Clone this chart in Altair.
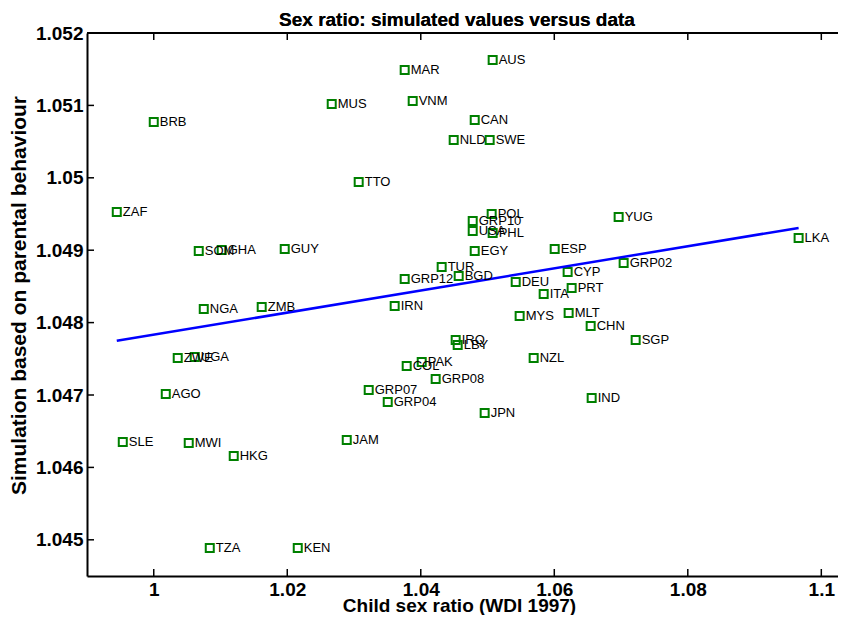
import altair as alt
import pandas as pd

# ---- data ----
codes = ["AUS", "MAR", "MUS", "VNM", "BRB", "CAN", "NLD", "SWE", "TTO", "ZAF",
         "POL", "GRP10", "USA", "PHL", "YUG", "LKA", "SOM", "GHA", "GUY", "EGY",
         "ESP", "GRP02", "CYP", "TUR", "GRP12", "BGD", "DEU", "PRT", "ITA", "NGA",
         "ZMB", "IRN", "MYS", "MLT", "CHN", "SGP", "IRQ", "LBY", "ZWE", "UGA",
         "NZL", "PAK", "COL", "GRP08", "GRP07", "AGO", "GRP04", "IND", "JPN", "SLE",
         "MWI", "JAM", "HKG", "TZA", "KEN"]
child_ratio = [1.05077, 1.03759, 1.02666, 1.03879, 1.00000, 1.04808, 1.04493, 1.05032, 1.03070, 0.99446,
               1.05062, 1.04778, 1.04778, 1.05077, 1.06964, 1.09660, 1.00674, 1.01018, 1.01962, 1.04808,
               1.06006, 1.07039, 1.06200, 1.04313, 1.03759, 1.04568, 1.05422, 1.06260, 1.05841, 1.00749,
               1.01617, 1.03609, 1.05481, 1.06215, 1.06545, 1.07219, 1.04523, 1.04553, 1.00359, 1.00614,
               1.05691, 1.04014, 1.03789, 1.04223, 1.03220, 1.00180, 1.03505, 1.06560, 1.04957, 0.99536,
               1.00524, 1.02891, 1.01198, 1.00839, 1.02157]
simulated = [1.051627, 1.051489, 1.051020, 1.051061, 1.050771, 1.050799, 1.050522, 1.050522, 1.049942, 1.049528,
             1.049500, 1.049404, 1.049266, 1.049238, 1.049459, 1.049169, 1.048989, 1.049003, 1.049017, 1.048989,
             1.049017, 1.048824, 1.048699, 1.048768, 1.048603, 1.048644, 1.048561, 1.048478, 1.048396, 1.048188,
             1.048216, 1.048230, 1.048092, 1.048133, 1.047954, 1.047760, 1.047760, 1.047691, 1.047512, 1.047526,
             1.047512, 1.047457, 1.047401, 1.047222, 1.047070, 1.047015, 1.046904, 1.046959, 1.046752, 1.046352,
             1.046338, 1.046379, 1.046158, 1.044888, 1.044888]
fit_x = [0.99446, 1.0966]
fit_y = [1.047748, 1.049308]
x_ticks = [1.0, 1.02, 1.04, 1.06, 1.08, 1.1]
y_ticks = [1.045, 1.046, 1.047, 1.048, 1.049, 1.05, 1.051, 1.052]
x_domain = [0.99, 1.1025]
y_domain = [1.0445, 1.052]
title_text = "Sex ratio: simulated values versus data"

W, H = 751, 543
FONT = "Liberation Sans"

pts = pd.DataFrame({"x": child_ratio, "y": simulated, "code": codes})
fit = pd.DataFrame({"x": fit_x, "y": fit_y})
xt = pd.DataFrame({"x": x_ticks})
yt = pd.DataFrame({"y": y_ticks})

xs = alt.Scale(domain=x_domain, nice=False, zero=False)
ys = alt.Scale(domain=y_domain, nice=False, zero=False)

x_axis = alt.Axis(values=x_ticks, format=".3~f", title="Child sex ratio (WDI 1997)",
                  titleX=372, titleY=35, titleBaseline="alphabetic", titleAlign="center",
                  labelPadding=4, labelBaseline="top")
y_axis = alt.Axis(values=y_ticks, format=".3~f", title="Simulation based on parental behaviour",
                  titleX=-68, titleY=262, titleAngle=270, titleAlign="center",
                  titleBaseline="middle", labelPadding=4, titleFontSize=21)

X = alt.X("x:Q", scale=xs, axis=x_axis)
Y = alt.Y("y:Q", scale=ys, axis=y_axis)

points = alt.Chart(pts).mark_point(shape="square", filled=False, color="#008000",
                                   strokeWidth=2, size=64, opacity=1).encode(x=X, y=Y)
labels = alt.Chart(pts).mark_text(align="left", baseline="middle", dx=6, fontSize=13,
                                  font=FONT, color="black").encode(x=X, y=Y, text="code:N")
line = alt.Chart(fit).mark_line(color="#0000ff", strokeWidth=2.5).encode(x=X, y=Y)
top_line = alt.Chart(fit).mark_rule(color="black", strokeWidth=2).encode(
    x=alt.value(0), x2=alt.value(W), y=alt.value(0)
)
bottom_ticks = alt.Chart(xt).mark_rule(color="black", strokeWidth=1.5).encode(
    x=X, y=alt.value(H - 7), y2=alt.value(H)
)
top_ticks = alt.Chart(xt).mark_rule(color="black", strokeWidth=1.5).encode(
    x=X, y=alt.value(0), y2=alt.value(7)
)
left_ticks = alt.Chart(yt).mark_rule(color="black", strokeWidth=1.5).encode(
    y=Y, x=alt.value(0), x2=alt.value(7)
)
title = alt.Chart(fit).mark_text(font=FONT, fontSize=19, fontWeight="bold", color="black",
                                 align="center", baseline="alphabetic").encode(
    x=alt.value(370), y=alt.value(-7), text=alt.value(title_text)
)

chart = alt.layer(points, line, labels, top_line, bottom_ticks, top_ticks, left_ticks, title).properties(
    width=W, height=H,
    autosize=alt.AutoSizeParams(type="none"),
    padding={"left": 79, "top": 25, "right": 0, "bottom": 39},
).configure_view(stroke=None).configure_axis(
    grid=False, ticks=False, tickSize=0, domainColor="black", domainWidth=2,
    labelFont=FONT, labelFontSize=19, labelFontWeight="bold", labelColor="black",
    titleFont=FONT, titleFontSize=19, titleFontWeight="bold", titleColor="black",
    labelOverlap=False, labelFlush=False,
)

chart.save("out.html", embed_options={"renderer": "svg", "actions": False})
